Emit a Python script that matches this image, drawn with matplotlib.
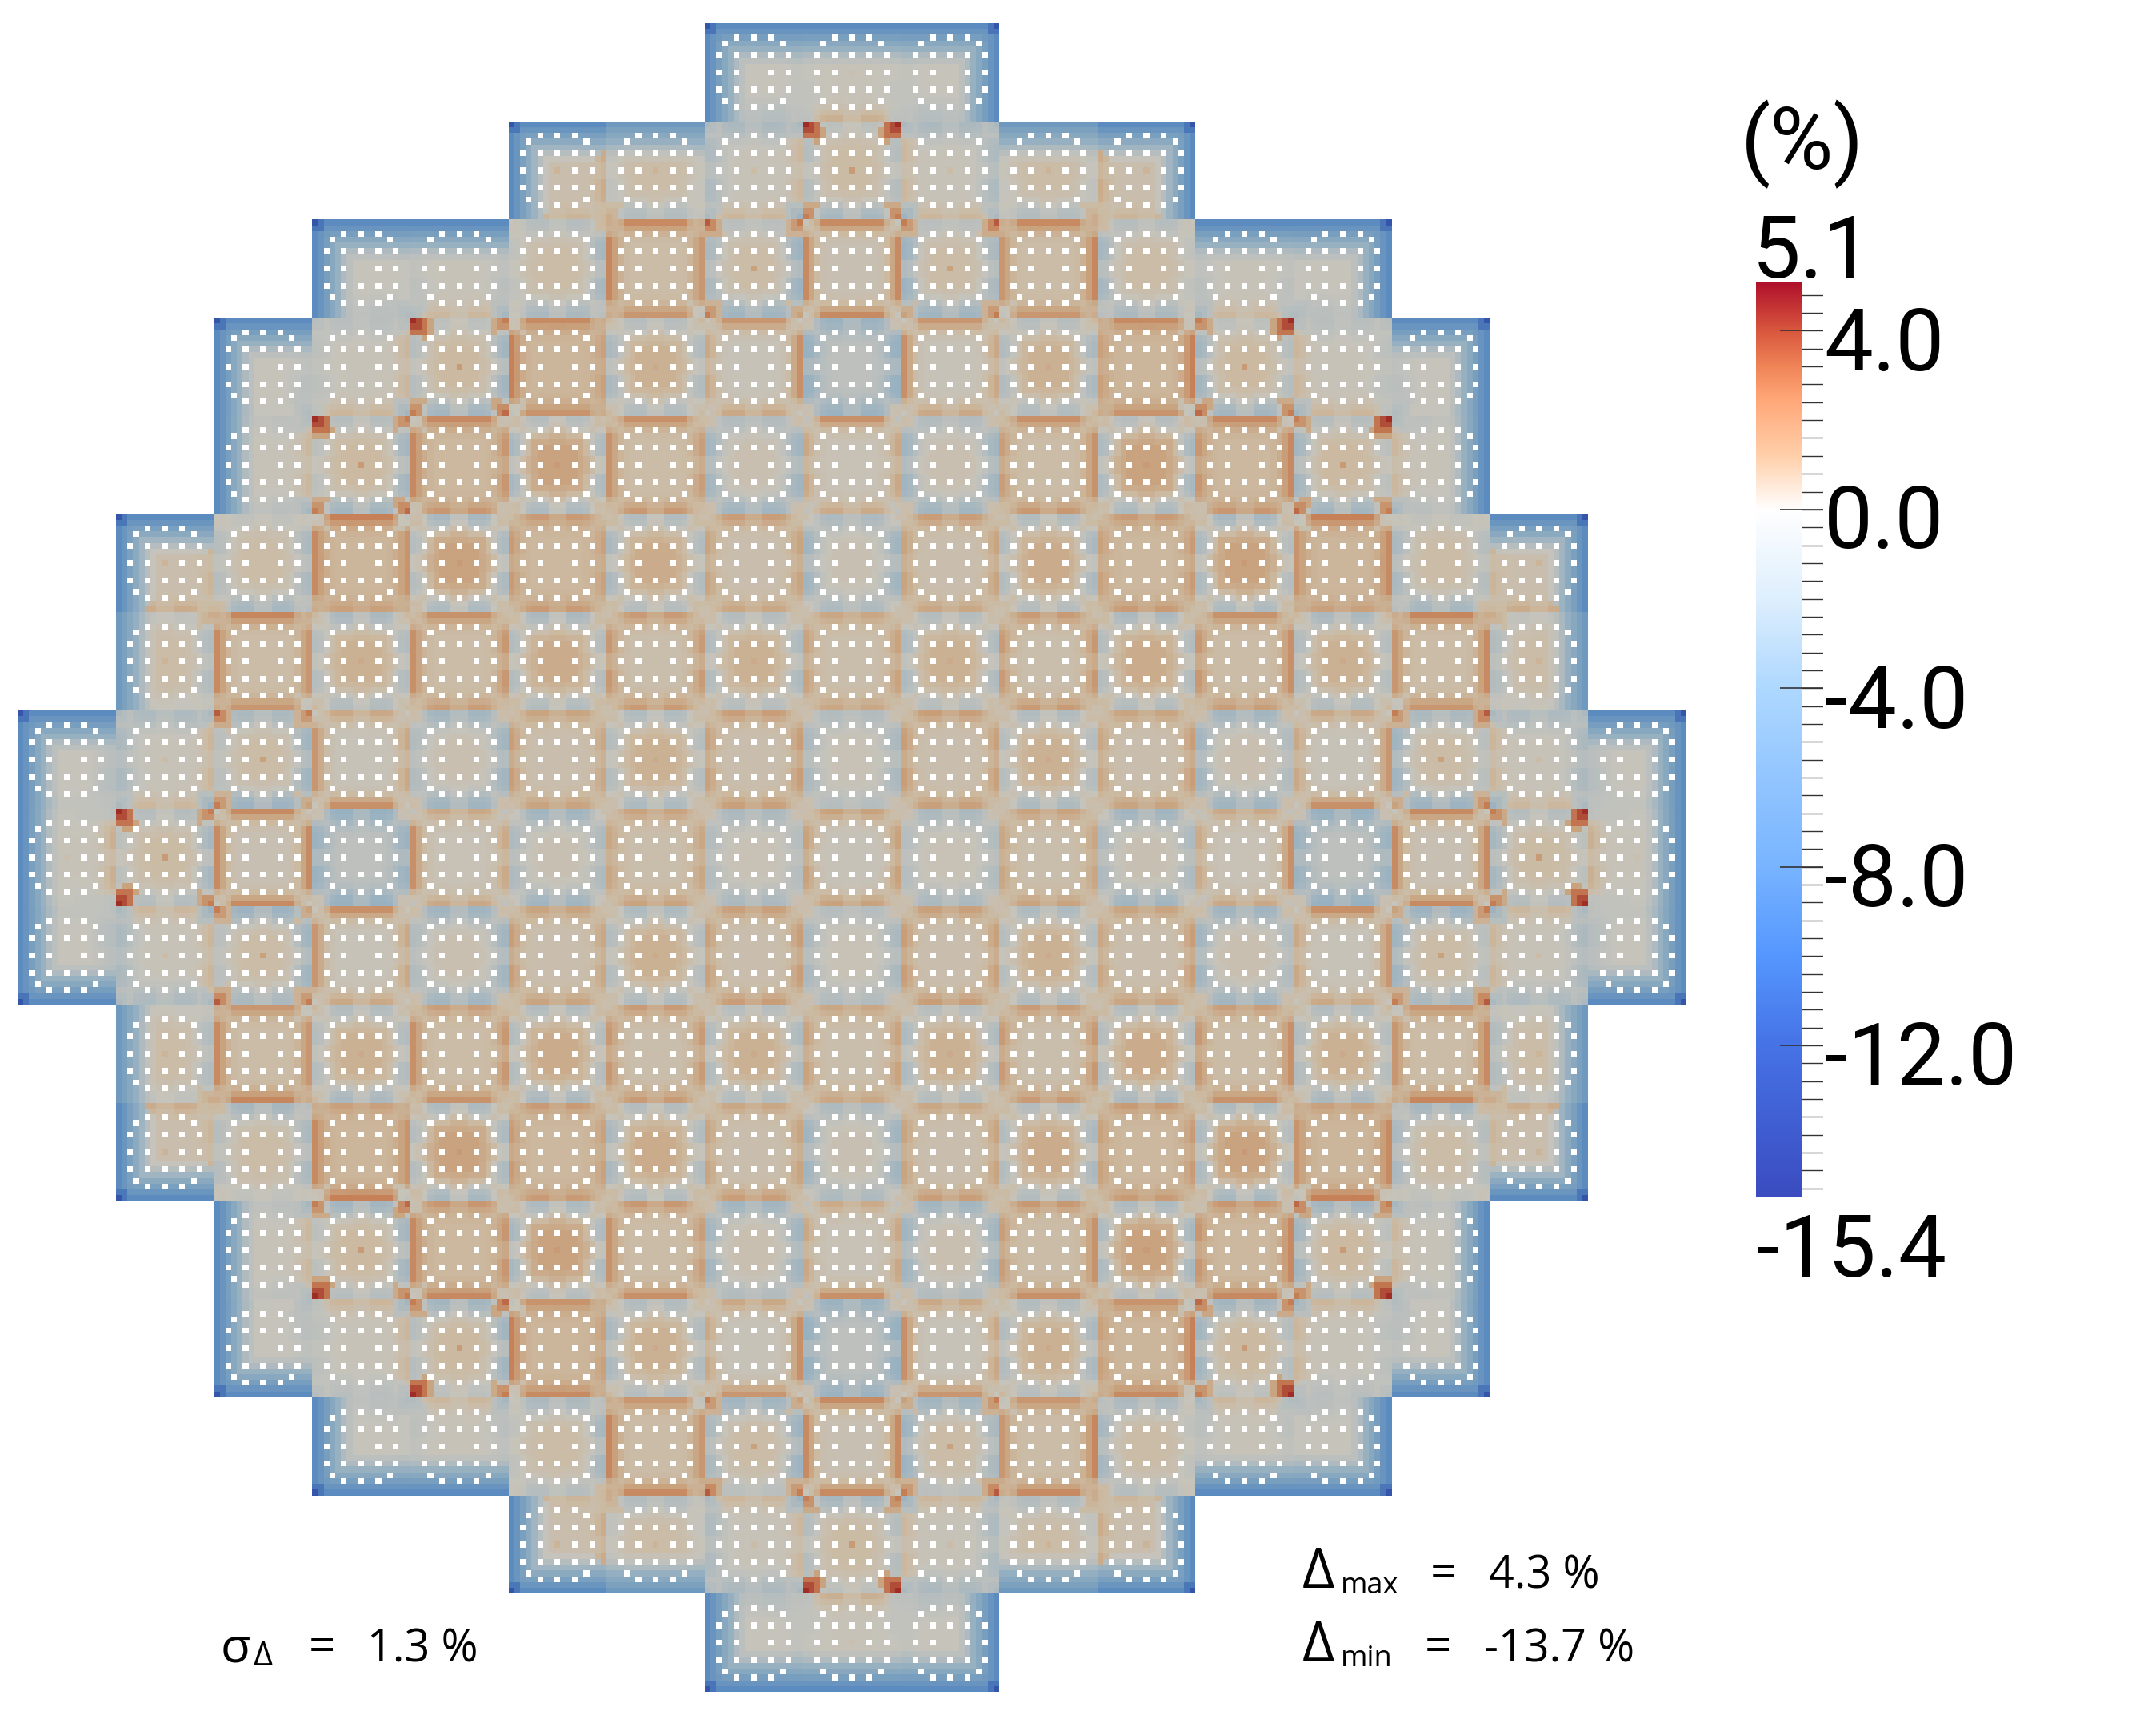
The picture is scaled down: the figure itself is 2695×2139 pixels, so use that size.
import numpy as np
import matplotlib
matplotlib.use("Agg")
import matplotlib.pyplot as plt
from matplotlib.colors import LinearSegmentedColormap, Normalize

W, H = 2695, 2139

# assemblies of one core octant, (row, col)
cells = [(0, 7), (0, 8),
         (1, 5), (1, 6), (1, 7), (1, 8),
         (2, 3), (2, 4), (2, 5), (2, 6), (2, 7), (2, 8),
         (3, 3), (3, 4), (3, 5), (3, 6), (3, 7), (3, 8),
         (4, 4), (4, 5), (4, 6), (4, 7), (4, 8),
         (5, 5), (5, 6), (5, 7), (5, 8),
         (6, 6), (6, 7), (6, 8),
         (7, 7), (7, 8),
         (8, 8)]

# percent difference: centre disc, ring round it
center = [0, .1,
          .5, .7, .1, .8,
          0, .1, .7, .7, .7, .3,
          .1, .9, 1.1, 1.3, .1, -.4,
          1, 1.9, .7, .4, .2,
          1, 1.5, .5, .3,
          .6, 1.3, .6,
          .5, .2,
          .1]
ring = [-.3, 0,
        .3, .3, 0, .8,
        -.2, 0, .4, .7, .1, .3,
        .1, .7, 1, .8, .2, -.2,
        .9, 1.2, .7, .1, .1,
        .9, 1.3, .6, .3,
        .7, 1, .6,
        .6, .1,
        .4]

# edge strips
north = [-6.5, -6.5,
         -6.5, -5, -1.3, -.5,
         -6.5, -6.5, -.8, 3, -.6, 3,
         -.7, -.5, 2.9, -.8, 2.7, -1.9,
         3, -.8, 2.8, -1, 2.9,
         2.4, -1, 2.4, -1.2,
         2.4, -.9, 2,
         2.4, -1,
         2.3]
south = [-.8, 1.6,
         1.3, -1, 1.3, -1.5,
         -.6, 1.2, -1.3, 2.6, -1.7, 3,
         1.3, -1.6, 2.6, -1, 2, -1.9,
         2.5, -1.2, 2.5, -1.6, 1.9,
         2.4, -.9, 2, -1.2,
         2.4, -.8, 2,
         2.3, -.8,
         2.3]
west = [-6.5, -.2,
        -6.5, -.3, -1.2, -.9,
        -6.5, -.5, -.3, 3.1, -1.3, 3,
        -.5, -.8, 3.2, -1.3, 2, -2.1,
        3, -1.4, 2.7, -1.6, 2,
        2.4, -1.3, 2.1, -1.7,
        2.5, -1.1, 2.2,
        2.3, -1.3,
        2.3]
east = [-.2, -.2,
        1.8, -.1, 1.2, -.9,
        0, -.6, -1.5, 2.6, -1.8, 3,
        1.3, -1.6, 2.2, -1, 2.9, -2.1,
        2.5, -1.2, 2.3, -1.7, 2,
        2.2, -1, 2.1, -1.7,
        2.4, -1.2, 2.2,
        2.4, -1.3,
        2.3]

# corners
corner_nw = [-12, -6.5,
             -12, -3, -1.3, 4.6,
             -12, -6, 0, 1.5, 3.6, 0,
             -.8, 4.6, 0, 1, 0, .5,
             0, .6, .8, .7, -.3,
             .8, .6, .6, .5,
             .5, .6, .5,
             .5, .5,
             .5]
corner_ne = [-6.5, -6.5,
             -4, -1, -1.3, 4.6,
             -6, -3, 1, 1.5, 3, 0,
             -.8, 3, 1.5, 1, 0, .5,
             .3, .6, .8, .7, -.3,
             .8, .6, .6, .5,
             .5, .6, .5,
             .5, .5,
             .5]
corner_sw = [-2, -.5,
             -1, 1.5, -1.3, 3,
             -1, -1, 0, 1.5, 3, 0,
             -.5, 3, -.3, 1, 0, .5,
             .3, .6, .8, .7, -.3,
             .8, .6, .6, .5,
             .5, .6, .5,
             .5, .5,
             .5]
corner_se = [-.5, -.5,
             1, -.3, -1.8, 3,
             -1, -1.5, -.7, -.2, 2, 0,
             -1.6, 3.3, 1.5, .8, 0, .5,
             .5, .6, .8, .7, -.3,
             .8, .6, .6, .5,
             .5, .6, .5,
             .5, .5,
             .5]

center_pin = {(1, 5): 1.2, (1, 6): 1.2, (1, 7): .7, (1, 8): 2.2, (2, 7): 2.0, (3, 4): 2.2,
              (3, 6): 1.6, (4, 5): 2.2, (6, 7): 1.6, (0, 8): .4}

# guide tube positions inside a 17x17 assembly, these are left white
tube_rows = [2, 2, 2, 3, 3, 5, 5, 5, 5, 5, 8, 8, 8, 8, 11, 11, 11, 11, 11, 13, 13, 14, 14, 14]
tube_cols = [5, 8, 11, 3, 13, 2, 5, 8, 11, 14, 2, 5, 11, 14, 2, 5, 8, 11, 14, 3, 13, 5, 8, 11]

# colour bar
bar_min, bar_max = -15.4, 5.1
major_ticks = [4.0, 0.0, -4.0, -8.0, -12.0]
tick_labels = ["4.0", "0.0", "-4.0", "-8.0", "-12.0"]

# pale colours of the map itself
map_values = [-15.4, -13, -7, -4, -2, -1, 0, 1, 2, 3, 4.3, 5.1]
map_colors = ["#2a3f9c", "#2f4ca8", "#5587bf", "#7fa3c0", "#99b2c2", "#b2bcbf", "#c6c4bc",
              "#ccb9a0", "#c9a27e", "#c67e55", "#a5342a", "#96201f"]
# brighter ones of the bar
bar_values = [-15.4, -12, -10, -8, -4, -2, 0, 1.2, 2.5, 3.2, 4, 5.1]
bar_colors = ["#3b4cc0", "#4673e6", "#5597ff", "#78b4ff", "#aed8ff", "#deeffd", "#ffffff",
              "#ffd0ab", "#ffa677", "#f08558", "#d9583e", "#b0102b"]

warm_depth = [.85, .55, .25, .08]
cool_depth = [1, .88, .62, .32, .12]
vacuum_depth = [1, .85, .68, .5, .32, .18, .08]
corner_depth = [1, .72, .4, .12]
hot_corner_depth = [1, .8, .62, .3]
along = [0, .2, .5, .9, 1, 1, 1, .6, .6, .6, 1, 1, 1, .9, .5, .2, 0]


def make_cmap(values, colors):
    pos = (np.array(values) - bar_min) / (bar_max - bar_min)
    return LinearSegmentedColormap.from_list("c", list(zip(pos, colors)), N=512)


def strip_weight(val, depth, pos):
    if val <= -4:
        return vacuum_depth[depth] if depth < len(vacuum_depth) else 0
    profile = cool_depth if val < 0 else warm_depth
    if depth >= len(profile):
        return 0
    w = profile[depth] * along[pos]
    if abs(val) > 2.55 and 3 <= pos <= 13:
        w = profile[depth]
    return w


def make_tile(k):
    tile = np.zeros((17, 17))
    for i in range(17):
        for j in range(17):
            d = np.hypot(i - 8, j - 8)
            w = np.clip((7.6 - d) / 1.5, 0, 1)
            base = ring[k] + (center[k] - ring[k]) * w
            parts = [
                strip_weight(north[k], i, j) * (north[k] - base),
                strip_weight(south[k], 16 - i, j) * (south[k] - base),
                strip_weight(west[k], j, i) * (west[k] - base),
                strip_weight(east[k], 16 - j, i) * (east[k] - base),
            ]
            for val, a, b in [(corner_nw[k], i, j), (corner_ne[k], i, 16 - j),
                              (corner_sw[k], 16 - i, j), (corner_se[k], 16 - i, 16 - j)]:
                m = max(a, b)
                profile = hot_corner_depth if val > 4.4 else corner_depth
                if m < len(profile):
                    parts.append(profile[m] * (val - base))
            tile[i, j] = base + max(parts, key=abs)
    tile[8, 8] = center_pin.get(cells[k], tile[8, 8])
    tile[tube_rows, tube_cols] = np.nan
    return tile


tiles = {cell: make_tile(k) for k, cell in enumerate(cells)}

core = np.full((289, 289), np.nan)
for r in range(17):
    for c in range(17):
        rr, cc = min(r, 16 - r), min(c, 16 - c)
        key = (min(rr, cc), max(rr, cc))
        if key not in tiles:
            continue
        t = tiles[key] if rr <= cc else tiles[key].T
        if r > 8:
            t = t[::-1, :]
        if c > 8:
            t = t[:, ::-1]
        core[r * 17:(r + 1) * 17, c * 17:(c + 1) * 17] = t

norm = Normalize(bar_min, bar_max)
map_cmap = make_cmap(map_values, map_colors)
map_cmap.set_bad("white")
bar_cmap = make_cmap(bar_values, bar_colors)

fig = plt.figure(figsize=(W / 100, H / 100), dpi=100, facecolor="white")


def add_axes_px(x0, y0, x1, y1):
    return fig.add_axes([x0 / W, 1 - y1 / H, (x1 - x0) / W, (y1 - y0) / H])


def put(x, y, s, size, family="Roboto"):
    # x = left edge, y = baseline, in picture pixels
    fig.text(x / W, 1 - y / H, s, fontsize=size, family=family, color="black",
             ha="left", va="baseline")


ax = add_axes_px(22, 29, 2108, 2115)
ax.imshow(np.ma.masked_invalid(core), cmap=map_cmap, norm=norm, interpolation="nearest", aspect="auto")
ax.axis("off")

# colour bar with its ticks on a shared value axis
cax = add_axes_px(2195, 352, 2279, 1497)
cax.set_xlim(0, 84)
cax.set_ylim(bar_min, bar_max)
grad = np.linspace(bar_max, bar_min, 512).reshape(-1, 1)
cax.imshow(grad, cmap=bar_cmap, norm=norm, extent=[0, 57, bar_min, bar_max], aspect="auto", interpolation="bilinear")
minor = np.arange(-15.2, 5.0, 0.4)
cax.hlines(minor, 57, 84, color="#333333", lw=1.0)
cax.hlines(major_ticks, 30, 84, color="#333333", lw=1.2)
cax.axis("off")

put(2176, 211, "(%)", 78)
put(2190, 347, "5.1", 78)
put(2195, 1596, "-15.4", 77)
for val, lab, base in zip(major_ticks, tick_labels, [463, 685, 910, 1133, 1356]):
    put(2280, base, lab, 78)

# statistics in the corners
sans = "Open Sans"
put(1628, 1985, "Δ", 50, sans)
put(1676, 1992, "max", 26, sans)
put(1788, 1985, "=", 42, sans)
put(1861, 1985, "4.3 %", 40, sans)
put(1628, 2077, "Δ", 50, sans)
put(1676, 2083, "min", 26, sans)
put(1781, 2077, "=", 42, sans)
put(1855, 2077, "-13.7 %", 40, sans)
put(276, 2077, "σ", 44, sans)
put(316, 2082, "Δ", 30, sans)
put(386, 2077, "=", 42, sans)
put(459, 2077, "1.3 %", 40, sans)

fig.savefig("out.png", dpi=100)
plt.close(fig)
